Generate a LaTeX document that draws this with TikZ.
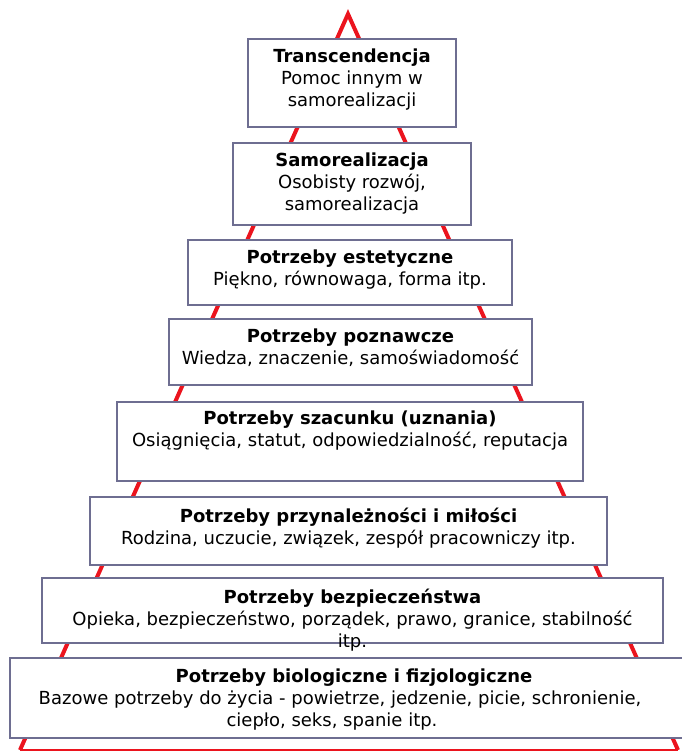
\documentclass[tikz,border=0pt]{standalone}
\usepackage{fontspec}
\setmainfont{DejaVu Sans}
\definecolor{boxc}{RGB}{110,110,145}
\definecolor{pyr}{RGB}{235,20,30}
\begin{document}
\begin{tikzpicture}[x=1pt,y=-1pt,
  box/.style={draw=boxc, line width=1.8pt, fill=white, inner sep=0pt, rectangle},
  txt/.style={align=center, font=\fontsize{18}{22}\selectfont, inner sep=0pt, anchor=north}]
\useasboundingbox (0,0) rectangle (681,753);
% pyramid
\coordinate (apex) at (348,14);
\coordinate (bl) at (20,750);
\coordinate (br) at (678,750);
\draw[pyr, line width=4pt, line join=miter] (bl) -- (apex) -- (br);
\draw[pyr, line width=2.5pt] (bl) -- (br);
% boxes
\node[box, minimum width=208pt, minimum height=88pt] (b1) at (352,83) {};
\node[box, minimum width=238pt, minimum height=82pt] (b2) at (352,184) {};
\node[box, minimum width=324pt, minimum height=65pt] (b3) at (350,272.5) {};
\node[box, minimum width=363pt, minimum height=66pt] (b4) at (350.5,352) {};
\node[box, minimum width=466pt, minimum height=79pt] (b5) at (350,441.5) {};
\node[box, minimum width=517pt, minimum height=68pt] (b6) at (348.5,531) {};
\node[box, minimum width=621pt, minimum height=65pt] (b7) at (352.5,610.5) {};
\node[box, minimum width=680pt, minimum height=80pt] (b8) at (350,698) {};
% texts
\node[txt] (t1) at ([yshift=-11pt]b1.north) {\textbf{Transcendencja}\\Pomoc innym w\\samorealizacji};
\node[txt] (t2) at ([yshift=-11pt]b2.north) {\textbf{Samorealizacja}\\Osobisty rozwój,\\samorealizacja};
\node[txt] (t3) at ([yshift=-11pt]b3.north) {\textbf{Potrzeby estetyczne}\\Piękno, równowaga, forma itp.};
\node[txt] (t4) at ([yshift=-11pt]b4.north) {\textbf{Potrzeby poznawcze}\\Wiedza, znaczenie, samoświadomość};
\node[txt] (t5) at ([yshift=-10pt]b5.north) {\textbf{Potrzeby szacunku (uznania)}\\Osiągnięcia, statut, odpowiedzialność, reputacja};
\node[txt] (t6) at ([yshift=-12pt]b6.north) {\textbf{Potrzeby przynależności i miłości}\\Rodzina, uczucie, związek, zespół pracowniczy itp.};
\node[txt] (t7) at ([yshift=-12pt]b7.north) {\textbf{Potrzeby bezpieczeństwa}\\Opieka, bezpieczeństwo, porządek, prawo, granice, stabilność\\itp.};
\node[txt] (t8a) at ([yshift=-12pt,xshift=4pt]b8.north) {\textbf{Potrzeby biologiczne i fizjologiczne}};
\node[txt] (t8b) at ([yshift=-34pt,xshift=-10pt]b8.north) {Bazowe potrzeby do życia - powietrze, jedzenie, picie, schronienie,};
\node[txt] (t8c) at ([yshift=-56pt,xshift=-18pt]b8.north) {ciepło, seks, spanie itp.};
\end{tikzpicture}
\end{document}
